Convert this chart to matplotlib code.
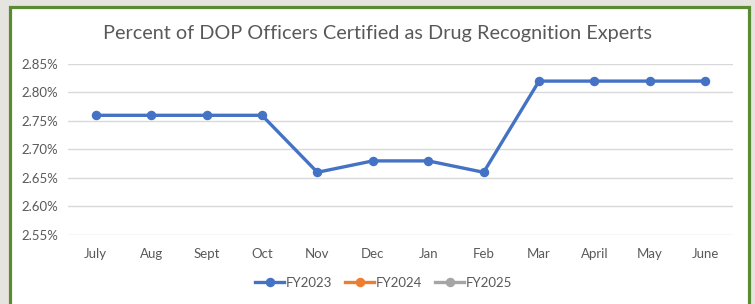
import matplotlib
matplotlib.use("Agg")
import matplotlib.pyplot as plt
from matplotlib.patches import Rectangle
from matplotlib.ticker import FuncFormatter, MultipleLocator

months = ["July", "Aug", "Sept", "Oct", "Nov", "Dec", "Jan", "Feb", "Mar", "April", "May", "June"]
fy2023 = [2.76, 2.76, 2.76, 2.76, 2.66, 2.68, 2.68, 2.66, 2.82, 2.82, 2.82, 2.82]
fy2024 = []
fy2025 = []

plt.rcParams['font.family'] = ['Lato', 'DejaVu Sans']

fig = plt.figure(figsize=(7.55, 3.04), dpi=100)
fig.patch.set_facecolor('#e6e4de')
W, H = 755, 304
fig.patches.append(Rectangle((9.5 / W, -0.05), (748.5 - 9.5) / W, 1 - 6.5 / H + 0.05,
                             transform=fig.transFigure, facecolor='white',
                             edgecolor='#5a8a32', linewidth=2.3, zorder=-10))

ax = fig.add_axes([68 / W, 1 - 235 / H, (733 - 68) / W, (235 - 64) / H])
ax.set_facecolor('none')
ax.set_zorder(5)
x = list(range(len(months)))
ax.plot(x, fy2023, color='#4472C4', lw=2.4, marker='o', ms=5.8, label='FY2023', zorder=3)
ax.plot(x[:len(fy2024)], fy2024, color='#ED7D31', lw=2.4, marker='o', ms=5.8, label='FY2024')
ax.plot(x[:len(fy2025)], fy2025, color='#A5A5A5', lw=2.4, marker='o', ms=5.8, label='FY2025')

ax.set_xlim(-0.5, len(months) - 0.5)
ax.set_ylim(2.55, 2.85)
ax.yaxis.set_major_locator(MultipleLocator(0.05))
ax.yaxis.set_major_formatter(FuncFormatter(lambda v, p: f"{v:.2f}%"))
ax.set_xticks(x)
ax.set_xticklabels(months)
ax.grid(axis='y', color='#d9d9d9', lw=1)
ax.set_axisbelow(True)
for s in ax.spines.values():
    s.set_visible(False)
ax.tick_params(length=0, labelsize=9.5, colors='#595959', pad=7)
ax.tick_params(axis='x', pad=9)

fig.text(0.5, 1 - 33 / H, "Percent of DOP Officers Certified as Drug Recognition Experts",
         ha='center', va='center', fontsize=14.3, color='#595959')

fig.legend(loc='center', bbox_to_anchor=(0.508, 1 - 283 / H), ncol=3, frameon=False,
           fontsize=9.5, labelcolor='#595959', handlelength=2.2, handletextpad=0.1,
           columnspacing=1.0)

fig.savefig('out.png', dpi=100, facecolor=fig.get_facecolor())
